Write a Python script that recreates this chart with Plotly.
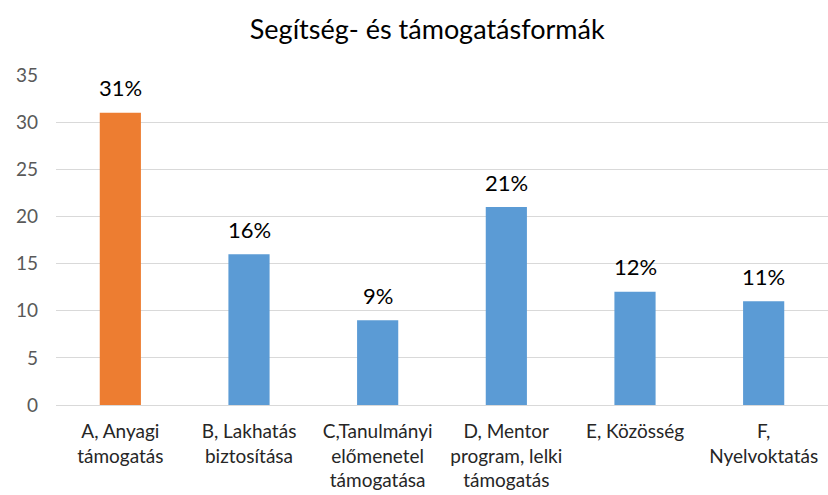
import plotly.graph_objects as go

categories = [
    "A, Anyagi<br>támogatás",
    "B, Lakhatás<br>biztosítása",
    "C,Tanulmányi<br>előmenetel<br>támogatása",
    "D, Mentor<br>program, lelki<br>támogatás",
    "E, Közösség",
    "F,<br>Nyelvoktatás",
]
values = [31, 16, 9, 21, 12, 11]
labels = ["31%", "16%", "9%", "21%", "12%", "11%"]
colors = ["#ED7D31", "#5B9BD5", "#5B9BD5", "#5B9BD5", "#5B9BD5", "#5B9BD5"]

FONT = "Lato, Calibri, Carlito, sans-serif"

fig = go.Figure(
    go.Bar(
        x=categories,
        y=values,
        marker=dict(color=colors, line=dict(width=0)),
        width=0.32,
        hoverinfo="x+y",
    )
)

# percentage labels floating above each bar
for cat, val, lab in zip(categories, values, labels):
    fig.add_annotation(
        x=cat,
        y=val,
        text=lab,
        showarrow=False,
        yanchor="middle",
        yshift=25,
        font=dict(family=FONT, size=22, color="#000000"),
    )

fig.update_layout(
    width=828,
    height=495,
    paper_bgcolor="white",
    plot_bgcolor="white",
    margin=dict(l=56, r=0, t=75, b=90),
    title=dict(
        text="Segítség- és támogatásformák",
        x=0.516,
        xanchor="center",
        y=0.94,
        yanchor="middle",
        font=dict(family=FONT, size=27, color="#000000"),
    ),
    showlegend=False,
)

fig.update_yaxes(
    range=[0, 35],
    dtick=5,
    showgrid=True,
    gridcolor="#D9D9D9",
    gridwidth=1,
    zeroline=True,
    zerolinecolor="#D9D9D9",
    zerolinewidth=1,
    showline=False,
    ticks="",
    ticklabelstandoff=17,
    tickfont=dict(family=FONT, size=19, color="#595959"),
)

fig.update_xaxes(
    showline=True,
    linecolor="#D9D9D9",
    linewidth=1,
    ticks="",
    tickangle=0,
    ticklabelstandoff=9,
    tickfont=dict(family=FONT, size=19, color="#262626"),
)

fig.write_html("out.html")
